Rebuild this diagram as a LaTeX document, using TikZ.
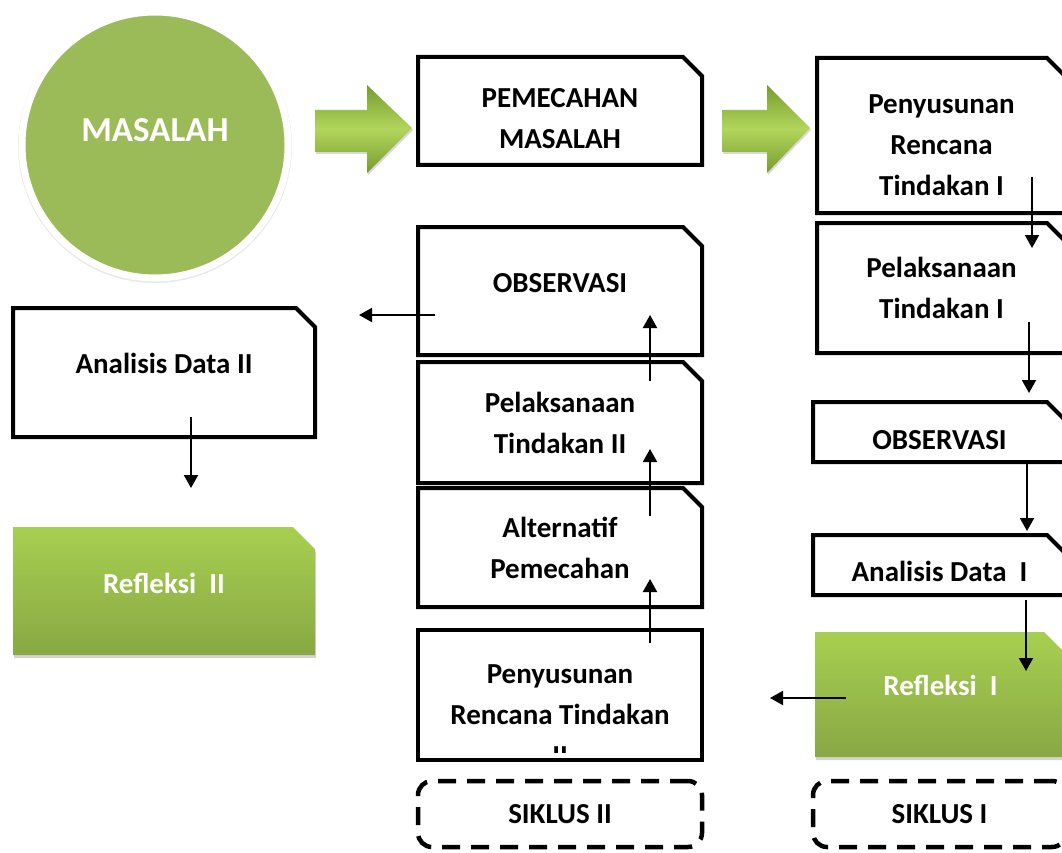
\documentclass[tikz,border=0pt]{standalone}
\usepackage{fontspec}
\setmainfont{Carlito}
\usetikzlibrary{arrows.meta, calc, positioning, shapes.misc, shadows}
\definecolor{masgreen}{RGB}{155,187,89}
\definecolor{boxtop}{RGB}{168,207,80}
\definecolor{boxbot}{RGB}{136,168,68}
\definecolor{arrlight}{RGB}{178,214,92}
\definecolor{arrdark}{RGB}{118,156,46}

\begin{document}
\begin{tikzpicture}[% styles used in image code
  x = 1pt, y = -1pt,
  > = {Triangle[width=14pt,length=13pt]},
txt/.style = {font=\fontsize{29}{41}\selectfont\bfseries, align=center},
box/.style = {txt, draw, line width=4pt,
              chamfered rectangle, chamfered rectangle corners=north east,
              chamfered rectangle xsep=9.5pt, chamfered rectangle ysep=9.5pt,
              inner sep=0pt, minimum width=284pt, minimum height=#1},
greenbox/.style = {box=#1, draw=none, top color=boxtop, bottom color=boxbot,
              chamfered rectangle xsep=11pt, chamfered rectangle ysep=11pt,
              text=white, drop shadow={opacity=.35, shadow xshift=1pt, shadow yshift=-3pt}},
dashbox/.style = {txt, draw, line width=4.5pt, dash pattern=on 18pt off 11pt,
              rounded corners=14pt, minimum width=284pt, minimum height=66pt},
arr/.style = {->, line width=2pt}
                   ]
	\clip (0,0) rectangle (1062,853);

	% problem and green arrows
	\node[circle, fill=masgreen, draw=white, line width=7pt, minimum size=266pt,
	      drop shadow={opacity=.18, shadow scale=1.03, shadow xshift=0pt, shadow yshift=-1pt},
	      font=\fontsize{35}{40}\selectfont\bfseries, text=white, text depth=30pt]
	      (mas) at (155,145) {MASALAH};
	\foreach \a/\b/\c in {315/367/412, 722/767/810}
	  \shade[top color=arrdark, bottom color=arrdark, middle color=arrlight,
	         drop shadow={opacity=.3, shadow xshift=1pt, shadow yshift=-2pt}]
	    (\a,110) -- (\b,110) -- (\b,85) -- (\c,128) -- (\b,173) -- (\b,152) -- (\a,152) -- cycle;

	% middle column (siklus II)
	\node[box=108pt, text height=75pt] (pem) at (560,111) {PEMECAHAN\\MASALAH};
	\node[box=128pt, text depth=16pt] (obs2) at (560,291) {OBSERVASI};
	\node[box=121pt] (pel2) at (560,422.5) {Pelaksanaan\\Tindakan II};
	\node[box=119pt] (alt) at (560,547.5) {Alternatif\\Pemecahan};
	\node[box=130pt] (pen2) at (560,695) {};
	\begin{scope}
	\clip (pen2.north west) rectangle ([yshift=10pt]pen2.south east);
	\node[txt] at ([yshift=-20pt]pen2.center) {Penyusunan\\Rencana Tindakan\\II};
	\end{scope}
	\node[dashbox] (sik2) at (560,814) {SIKLUS II};

	% right column (siklus I)
	\node[box=155pt, minimum width=249pt, text height=120pt] (pen1) at (941.5,135.5) {Penyusunan\\Rencana\\Tindakan I};
	\node[box=130pt, minimum width=249pt] (pel1) at (941.5,288) {Pelaksanaan\\Tindakan I};
	\node[box=60pt, minimum width=253pt, text height=35pt] (obs1) at (939.5,432) {OBSERVASI};
	\node[box=60pt, minimum width=253pt, text height=34pt] (ana1) at (939.5,565) {Analisis Data~~I};
	\node[greenbox=125pt, minimum width=251pt, text depth=18pt] (ref1) at (940.5,694.5) {Refleksi~~I};
	\node[dashbox, minimum width=253pt] (sik1) at (939.5,814) {SIKLUS I};

	% left column
	\node[box=129pt, minimum width=302pt, text depth=18pt] (ana2) at (164,372.5) {Analisis Data II};
	\node[greenbox=128pt, minimum width=302pt, text depth=16pt] (ref2) at (164,591) {Refleksi~~II};

	% connectors
	\draw[arr] ([xshift=90.5pt,yshift=38pt]pen1.south) -- ([xshift=90.5pt,yshift=-27pt]pel1.north);
	\draw[arr] ([xshift=87.5pt,yshift=33pt]pel1.south) -- ([xshift=89.5pt,yshift=7pt]obs1.north);
	\draw[arr] ([xshift=87.5pt]obs1.south) -- ([xshift=87.5pt,yshift=2pt]ana1.north);
	\draw[arr] ([xshift=86.5pt,yshift=-3pt]ana1.south) -- ([xshift=85.5pt,yshift=-41pt]ref1.north);
	\draw[arr] ([xshift=33pt,yshift=-3.5pt]ref1.west) -- ([xshift=66pt,yshift=-3pt]pen2.east);
	\draw[arr] ([xshift=90pt,yshift=-15pt]pen2.north) -- ([xshift=90pt,yshift=30pt]alt.south);
	\draw[arr] ([xshift=90pt,yshift=-30pt]alt.north) -- ([xshift=90pt,yshift=36pt]pel2.south);
	\draw[arr] ([xshift=90pt,yshift=-21pt]pel2.north) -- ([xshift=90pt,yshift=42pt]obs2.south);
	\draw[arr] ([xshift=19pt,yshift=-24pt]obs2.west) -- ([xshift=42pt,yshift=57.5pt]ana2.east);
	\draw[arr] ([xshift=27pt,yshift=22pt]ana2.south) -- ([xshift=27pt,yshift=37pt]ref2.north);
\end{tikzpicture}
\end{document}
